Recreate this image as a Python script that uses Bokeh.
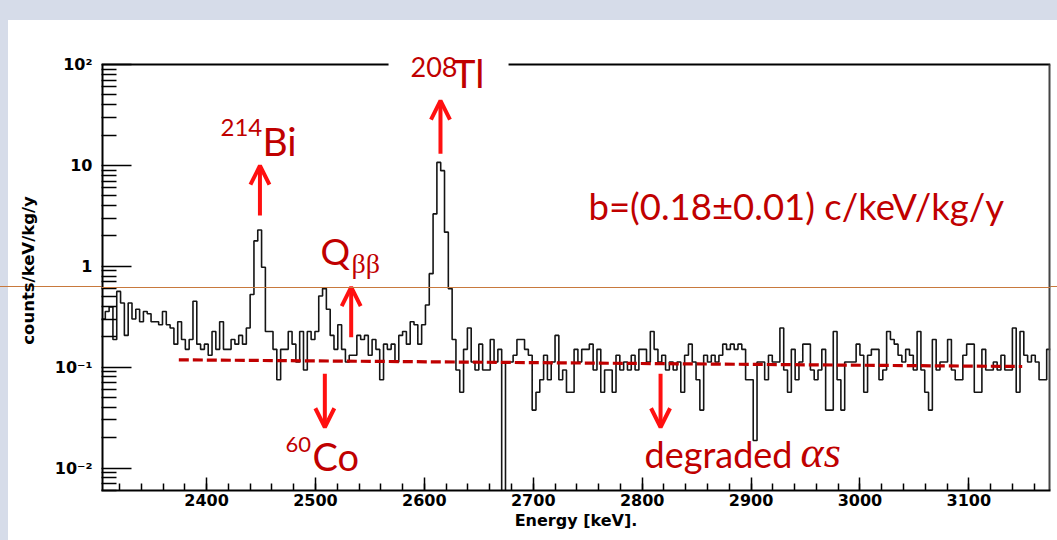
import numpy as np
from bokeh.plotting import figure
from bokeh.models import FixedTicker, Label, Arrow, OpenHead, Span, Div
from bokeh.layouts import column, row
from bokeh.embed import file_html
from bokeh.resources import INLINE

# ---------------- data ----------------
bin_start_kev = 2303.5
bin_width_kev = 3.5
rate_per_count = 0.0188          # counts/keV/kg/y for one count in a bin
counts = [
    16, 19, 21, 10, 30, 23, 11, 23, 16, 20,
    15, 19, 18, 15, 15, 14, 19, 14, 13, 9,
    15, 10, 8, 10, 24, 9, 8, 9, 7, 12,
    8, 15, 8, 8, 10, 9, 11, 9, 13, 28,
    95, 122, 52, 12, 12, 8, 4, 8, 8, 12,
    9, 6, 12, 5, 12, 10, 12, 27, 32, 20,
    11, 8, 14, 8, 6, 7, 7, 11, 10, 11,
    7, 10, 8, 4, 9, 8, 9, 6, 11, 12,
    9, 15, 14, 9, 14, 22, 45, 176, 570, 472,
    116, 32, 10, 5, 3, 8, 13, 6, 5, 9,
    5, 5, 10, 6, 8, 0, 6, 6, 7, 10,
    10, 8, 7, 2, 3, 4, 7, 4, 6, 11,
    4, 5, 3, 3, 8, 6, 8, 8, 9, 5,
    8, 3, 5, 5, 3, 7, 5, 6, 5, 7,
    5, 8, 8, 6, 12, 8, 6, 7, 5, 6,
    5, 6, 3, 7, 9, 6, 4, 2, 7, 6,
    7, 6, 7, 9, 8, 9, 8, 9, 8, 4,
    4, 1, 6, 6, 4, 7, 6, 6, 13, 5,
    3, 8, 4, 6, 9, 9, 5, 4, 5, 8,
    2, 2, 12, 4, 2, 6, 6, 6, 9, 7,
    3, 7, 8, 8, 4, 5, 12, 10, 9, 7,
    6, 8, 7, 5, 12, 5, 3, 2, 10, 5,
    6, 6, 10, 5, 4, 4, 7, 9, 9, 3,
    3, 8, 5, 5, 6, 5, 7, 5, 5, 13,
    3, 12, 7, 6, 7, 6, 4, 4, 8,
]

# flat background fit (dashed)
fit_energy = [2374.5, 3149.0]
fit_rate = [0.1184, 0.1016]

# axis ranges / ticks
x_lo, x_hi = bin_start_kev, 3175.0
y_lo, y_hi = 0.006, 100.0          # the drawn frame box
y_view_top = 137.7                 # room above the box for the 208Tl label
x_major = [2400, 2500, 2600, 2700, 2800, 2900, 3000, 3100]
x_minor = list(range(2320, 3175, 20))
y_major = [0.01, 0.1, 1, 10, 100]
y_major_labels = ["10\u207b\u00b2", "10\u207b\u00b9", "1", "10", "10\u00b2"]
top_gap_kev = (2567.1, 2677.3)     # where the 208Tl label interrupts the frame

# annotation arrows: energy, rate at tail, rate at tip
arrow_energy = [2449.0, 2614.8, 2532.8, 2508.6, 2816.9]
arrow_from = [3.18, 13.03, 0.198, 0.086, 0.086]
arrow_to = [9.93, 43.96, 0.621, 0.0254, 0.0254]

# ---------------- figure ----------------
edges = bin_start_kev + bin_width_kev * np.arange(len(counts) + 1)
rates = np.array(counts, dtype=float) * rate_per_count
rates_plot = np.where(rates > 0, rates, 1e-9)
step_y = np.append(rates_plot, rates_plot[-1])

DARK_RED = "#c00000"
RED = "#ff1010"
BLUE = "#d6dce9"
ORANGE = "#c8793d"

p = figure(width=1049, height=520, y_axis_type="log",
           x_range=(x_lo, x_hi), y_range=(y_lo, y_view_top),
           output_backend="svg", toolbar_location=None,
           min_border_left=93, min_border_right=7, min_border_top=30,
           min_border_bottom=50, background_fill_color="white",
           border_fill_color=None,
           styles={"background": "linear-gradient(to bottom, white 266px, %s 266px, %s 267px, white 267px)"
                   % (ORANGE, ORANGE)})
p.outline_line_color = None
p.grid.visible = False

p.step(x=edges, y=step_y, mode="after", line_color="#151515", line_width=1.6)
p.line(fit_energy, fit_rate, line_color=DARK_RED, line_width=3.2,
       line_dash="10 4")

# frame box (left, top with a gap, right)
p.line([x_lo, x_lo], [y_lo, y_hi], line_color="black", line_width=4)
p.line([x_lo, top_gap_kev[0]], [y_hi, y_hi], line_color="black", line_width=2)
p.line([top_gap_kev[1], x_hi], [y_hi, y_hi], line_color="black", line_width=2)
p.line([x_hi, x_hi], [y_lo, y_hi], line_color="#444444", line_width=4)

# axes styling
for ax in (p.xaxis[0], p.yaxis[0]):
    ax.axis_line_width = 2
    ax.axis_line_color = "black"
    ax.major_tick_out = 0
    ax.minor_tick_out = 0
    ax.major_tick_line_width = 1.5
    ax.minor_tick_line_width = 1.5
    ax.major_label_text_font = "DejaVu Sans"
    ax.major_label_text_font_style = "bold"
    ax.major_label_text_font_size = "16px"
    ax.major_label_text_color = "black"
    ax.axis_label_text_font = "DejaVu Sans"
    ax.axis_label_text_font_style = "bold"
    ax.axis_label_text_font_size = "16px"
    ax.axis_label_text_color = "black"

xa = p.xaxis[0]
xa.ticker = FixedTicker(ticks=x_major, minor_ticks=x_minor)
xa.major_tick_in = 13
xa.minor_tick_in = 7
xa.major_label_standoff = 3
xa.axis_label = "Energy [keV]."
xa.axis_label_standoff = 2

ya = p.yaxis[0]
ya.axis_line_color = None
y_minor = [m * 10.0 ** k for k in range(-3, 2) for m in range(2, 10)
           if y_lo <= m * 10.0 ** k <= y_hi]
ya.ticker = FixedTicker(ticks=y_major, minor_ticks=y_minor)
ya.major_tick_in = 30
ya.minor_tick_in = 15
ya.major_label_standoff = 9
ya.major_label_overrides = dict(zip(y_major, y_major_labels))
ya.axis_label = "counts/keV/kg/y"
ya.axis_label_text_font_size = "16.5px"
ya.axis_label_standoff = 14

# arrows
for e, y0, y1 in zip(arrow_energy, arrow_from, arrow_to):
    p.add_layout(Arrow(end=OpenHead(size=19, line_color=RED, line_width=4),
                       x_start=e, y_start=y0, x_end=e, y_end=y1,
                       line_color=RED, line_width=4))


def lab(x, y, text, size, font="Lato", style="normal"):
    p.add_layout(Label(x=x, y=y, text=text, text_font=font,
                       text_font_size=size, text_font_style=style,
                       text_color=DARK_RED, text_baseline="alphabetic",
                       text_align="left", level="overlay"))


lab(2412.8, 23.5, "214", "24px")
lab(2451.4, 17.6, "Bi", "39px")
lab(2587.3, 95.1, "208", "27px")
lab(2625.8, 82.5, "Tl", "39px")
lab(2504.6, 1.428, "Q", "37px")
lab(2533.1, 1.071, "\u03b2\u03b2", "28px", font="Liberation Serif")
lab(2472.5, 0.01706, "60", "22px")
lab(2497.3, 0.01315, "Co", "38px")
lab(2802.2, 0.01377, "degraded", "36px")
lab(2945.5, 0.01428, "\u03b1s", "44px", font="Liberation Serif",
    style="italic")
lab(2750.7, 4.005, "b=(0.18\u00b10.01) c/keV/kg/y", "36.5px")

# thin orange guide line crossing the whole slide
p.add_layout(Span(location=0.6165, dimension="width", line_color=ORANGE,
                  line_width=1, level="overlay"))

top_strip = Div(text="", width=1057, height=20, margin=(0, 0, 0, 0),
                styles={"background-color": BLUE})
left_strip = Div(text="", width=8, height=520, margin=(0, 0, 0, 0),
                 styles={"background": "linear-gradient(to bottom, %s 266px, %s 266px, %s 267px, %s 267px)"
                         % (BLUE, ORANGE, ORANGE, BLUE)})
layout = column(top_strip, row(left_strip, p, spacing=0), spacing=0)

open("out.html", "w").write(file_html(layout, INLINE))
